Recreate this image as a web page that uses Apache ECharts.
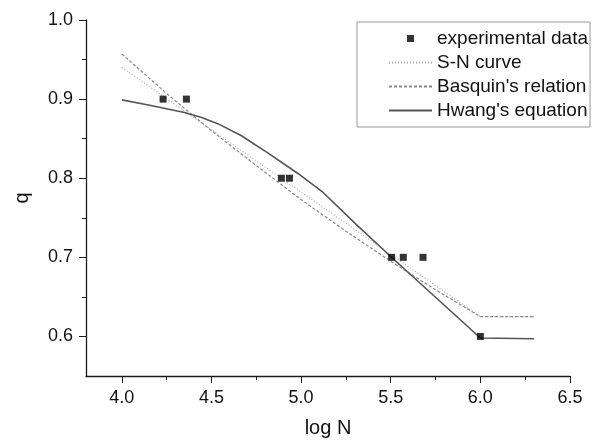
<!DOCTYPE html>
<html><head><meta charset="utf-8">
<script src="https://cdn.jsdelivr.net/npm/echarts@6/dist/echarts.min.js"></script>
<style>html,body{margin:0;padding:0;background:#fff}#c{width:597px;height:443px}</style>
</head><body><div id="c"></div>
<script>
// experimental data
const expX = [4.23, 4.36, 4.89, 4.935, 5.505, 5.57, 5.68, 6.0];
const expY = [0.9, 0.9, 0.8, 0.8, 0.7, 0.7, 0.7, 0.6];
// S-N curve
const snX = [4.0, 6.0, 6.3];
const snY = [0.94, 0.625, 0.625];
// Basquin's relation
const basX = [4.0, 4.25, 4.5, 4.75, 5.0, 5.25, 5.5, 5.75, 6.0, 6.3];
const basY = [0.957, 0.907, 0.860, 0.816, 0.773, 0.733, 0.695, 0.659, 0.625, 0.625];
// Hwang's equation
const hwX = [4.0, 4.162, 4.349, 4.441, 4.535, 4.665, 4.814, 4.982, 5.123, 5.31, 5.495, 6.0, 6.3];
const hwY = [0.899, 0.892, 0.883, 0.877, 0.869, 0.854, 0.832, 0.806, 0.782, 0.741, 0.702, 0.598, 0.597];
// ticks
const xMajor = [4.0, 4.5, 5.0, 5.5, 6.0, 6.5];
const xMinor = [4.25, 4.75, 5.25, 5.75, 6.25];
const yMajor = [0.6, 0.7, 0.8, 0.9, 1.0];
const yMinor = [0.65, 0.75, 0.85, 0.95];

const zip = (xs, ys) => xs.map((x, i) => [x, ys[i]]);
const FONT = 'Liberation Sans, Arial, sans-serif';
const AX = '#1a1a1a';
const noSym = {opacity: 0, color: 'transparent', borderWidth: 0};

const chart = echarts.init(document.getElementById('c'), null, {renderer: 'canvas'});
chart.setOption({
  animation: false,
  backgroundColor: '#fff',
  grid: {left: 86, right: 27, top: 20, bottom: 66, containLabel: false},
  legend: {
    orient: 'vertical', left: 357, top: 22, align: 'left',
    itemWidth: 43, itemHeight: 7, itemGap: 5,
    padding: [7, 2, 7, 31],
    borderColor: '#999', borderWidth: 1,
    textStyle: {fontSize: 19, fontFamily: FONT, color: '#111'},
    data: [
      {name: 'experimental data', icon: 'path://M0,0M43,7M18,0h7v7h-7z'},
      {name: 'S-N curve', itemStyle: noSym},
      {name: "Basquin's relation", itemStyle: noSym},
      {name: "Hwang's equation", itemStyle: noSym}
    ]
  },
  xAxis: [{
    type: 'value', min: 3.8, max: 6.5,
    name: 'log N', nameLocation: 'middle', nameGap: 42,
    nameTextStyle: {fontSize: 20, fontFamily: FONT, color: '#111'},
    axisLine: {show: true, lineStyle: {color: AX, width: 1.3}},
    axisTick: {show: true, inside: false, length: 7, customValues: xMajor, lineStyle: {color: AX}},
    axisLabel: {customValues: xMajor, fontSize: 18, fontFamily: FONT, color: '#111', margin: 13,
      formatter: v => v.toFixed(1)},
    splitLine: {show: false}
  }, {
    type: 'value', min: 3.8, max: 6.5, position: 'bottom',
    axisLine: {show: false},
    axisTick: {show: true, inside: false, length: 4, customValues: xMinor, lineStyle: {color: AX}},
    axisLabel: {show: false},
    splitLine: {show: false}
  }],
  yAxis: [{
    type: 'value', min: 0.55, max: 1.0,
    name: 'q', nameLocation: 'middle', nameGap: 54,
    nameTextStyle: {fontSize: 20, fontFamily: FONT, color: '#111'},
    axisLine: {show: true, lineStyle: {color: AX, width: 1.3}},
    axisTick: {show: true, inside: false, length: 7, customValues: yMajor, lineStyle: {color: AX}},
    axisLabel: {customValues: yMajor, fontSize: 18, fontFamily: FONT, color: '#111', margin: 13,
      formatter: v => v.toFixed(1)},
    splitLine: {show: false}
  }, {
    type: 'value', min: 0.55, max: 1.0, position: 'left',
    axisLine: {show: false},
    axisTick: {show: true, inside: false, length: 4, customValues: yMinor, lineStyle: {color: AX}},
    axisLabel: {show: false},
    splitLine: {show: false}
  }],
  series: [
    {name: 'experimental data', type: 'scatter', symbol: 'rect', symbolSize: 7,
     itemStyle: {color: '#000'}, data: zip(expX, expY), z: 5},
    {name: 'S-N curve', type: 'line', symbol: 'none', data: zip(snX, snY),
     lineStyle: {color: '#aaa', width: 1.2, type: [1, 2]}, itemStyle: {color: '#aaa'}},
    {name: "Basquin's relation", type: 'line', symbol: 'none', data: zip(basX, basY),
     lineStyle: {color: '#888', width: 1.2, type: [3, 2]}, itemStyle: {color: '#888'}},
    {name: "Hwang's equation", type: 'line', symbol: 'none', data: zip(hwX, hwY),
     lineStyle: {color: '#555', width: 1.6, type: 'solid'}, itemStyle: {color: '#555'}}
  ]
});
</script></body></html>
